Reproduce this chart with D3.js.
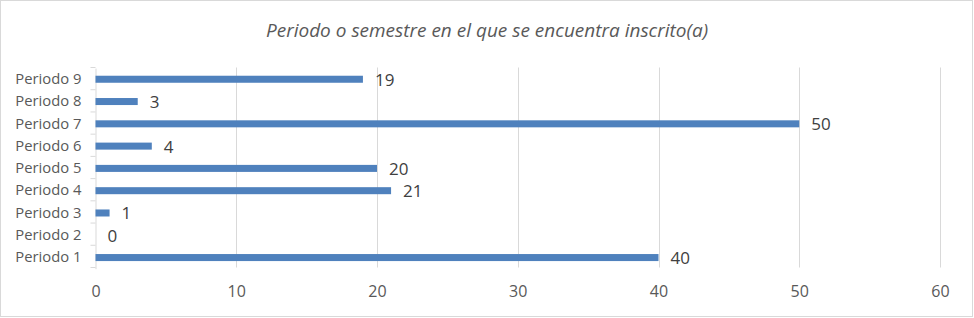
<!DOCTYPE html>
<html><head><meta charset="utf-8">
<script src="https://cdn.jsdelivr.net/npm/d3@7"></script>
<style>body{margin:0;background:#fff}svg{display:block}text{font-family:"Open Sans",sans-serif}</style>
</head><body>
<script>
const categories = ["Periodo 1","Periodo 2","Periodo 3","Periodo 4","Periodo 5","Periodo 6","Periodo 7","Periodo 8","Periodo 9"];
const values = [40,0,1,21,20,4,50,3,19];
const xTicks = [0,10,20,30,40,50,60];
const title = "Periodo o semestre en el que se encuentra inscrito(a)";

(function(){
const W=974,H=318;
const svg=d3.select("body").append("svg").attr("width",W).attr("height",H);
svg.append("rect").attr("x",0.5).attr("y",0.5).attr("width",W-2).attr("height",H-2)
  .attr("fill","#fff").attr("stroke","#d9d9d9");

const pl=95.5,pr=940,pt=67.5,pb=267.5;
const x=d3.scaleLinear().domain([0,60]).range([pl,pr]);
const y=d3.scaleBand().domain(categories.slice().reverse()).range([pt+0.6,pb+1.2]).paddingInner(0.685).paddingOuter(0.3425);

svg.append("text").attr("x",487).attr("y",37).attr("text-anchor","middle")
  .attr("font-style","italic").attr("font-size",19).attr("fill","#595959").text(title);

// grid
svg.append("g").selectAll("line").data(xTicks.slice(1)).join("line")
  .attr("x1",d=>Math.round(x(d))+0.5).attr("x2",d=>Math.round(x(d))+0.5)
  .attr("y1",pt).attr("y2",pb).attr("stroke","#d9d9d9").attr("stroke-width",1);

// x axis labels
const xa=svg.append("g").attr("transform",`translate(0,${pb})`)
  .call(d3.axisBottom(x).tickValues(xTicks).tickSize(0).tickPadding(18));
xa.select(".domain").remove();
xa.selectAll("text").attr("font-size",16).attr("fill","#595959").attr("font-family","Open Sans");

// y axis
const step=(pb-pt)/categories.length;
const ya=svg.append("g").attr("transform",`translate(${pl},0)`)
  .call(d3.axisLeft(y).tickSize(0).tickPadding(14));
ya.select(".domain").attr("stroke","#d9d9d9");
ya.selectAll("text").attr("font-size",14.8).attr("fill","#595959").attr("font-family","Open Sans");
const bounds=d3.range(categories.length+1).map(i=>pt+i*step);
ya.append("g").selectAll("line").data(bounds).join("line")
  .attr("x1",-5).attr("x2",0).attr("y1",d=>d).attr("y2",d=>d).attr("stroke","#d9d9d9");

// bars
svg.append("g").selectAll("rect").data(categories).join("rect")
  .attr("x",x(0)).attr("y",d=>y(d)).attr("height",y.bandwidth())
  .attr("width",(d,i)=>x(values[i])-x(0)).attr("fill","#4f81bd");

// labels
svg.append("g").selectAll("text").data(categories).join("text")
  .attr("x",(d,i)=>x(values[i])+12).attr("y",d=>y(d)+y.bandwidth()/2)
  .attr("dy","0.38em").attr("font-size",17).attr("fill","#404040")
  .text((d,i)=>values[i]);
})();
</script>
</body></html>
